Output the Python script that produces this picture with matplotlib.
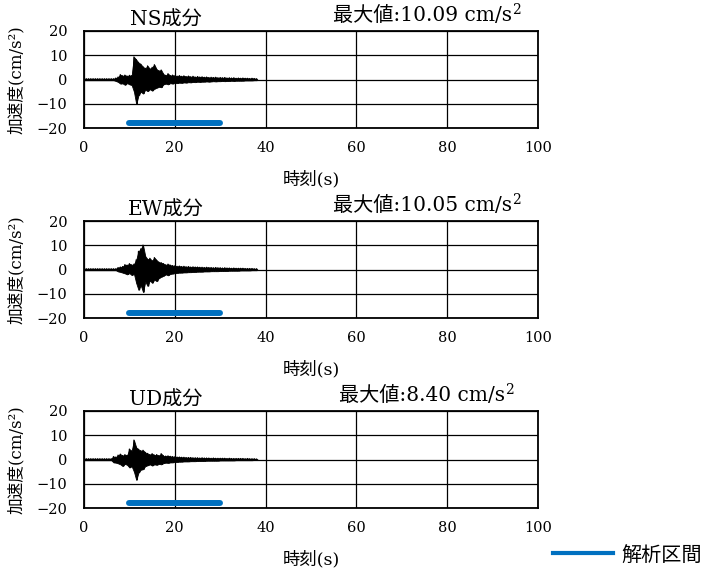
import matplotlib
matplotlib.use("Agg")
import matplotlib.pyplot as plt
from matplotlib.lines import Line2D
import numpy as np

plt.rcParams["font.family"] = ["DejaVu Serif", "Noto Sans CJK JP"]

# envelope of the records, read every 0.5 s from 0 to 38 s
T_STEP = 0.5
T_END = 38.0

ns_upper = [0.3] * 14 + [
    0.6, 1.0, 2.0, 1.5, 1.8, 1.4, 1.7, 1.6, 9.3, 8.2, 7.0, 6.3, 5.2, 4.6, 5.6, 4.4,
    5.0, 6.1, 4.2, 3.6, 3.9, 2.2, 1.7, 2.4, 1.6, 1.8, 1.5, 1.4, 1.6, 1.3, 1.5, 1.2,
    1.4, 1.1, 1.3, 1.0, 1.2, 1.0, 1.1, 0.9, 1.0, 0.8, 0.9, 0.8, 0.9, 0.7, 0.8, 0.7,
    0.8, 0.6, 0.7, 0.6, 0.7, 0.5, 0.6, 0.5, 0.6, 0.5, 0.5, 0.4, 0.5, 0.4, 0.3]
ns_lower = [-0.3] * 14 + [
    -0.6, -1.0, -1.7, -1.6, -2.2, -1.5, -2.0, -2.3, -5.0, -10.09, -6.5, -5.0, -5.8,
    -4.2, -4.8, -4.0, -4.6, -3.8, -3.4, -3.0, -3.2, -2.0, -1.7, -2.0, -1.5, -1.7,
    -1.4, -1.5, -1.3, -1.4, -1.2, -1.3, -1.1, -1.2, -1.0, -1.1, -0.9, -1.0, -0.9,
    -0.9, -0.8, -0.9, -0.8, -0.7, -0.8, -0.7, -0.7, -0.6, -0.7, -0.6, -0.6, -0.5,
    -0.6, -0.5, -0.5, -0.5, -0.5, -0.4, -0.4, -0.4, -0.4, -0.3, -0.3]

ew_upper = [0.3] * 15 + [
    0.8, 1.0, 1.2, 2.0, 1.8, 2.4, 1.9, 2.2, 4.0, 7.5, 8.5, 10.05, 5.5, 4.2, 4.6,
    3.6, 4.9, 3.8, 3.0, 2.8, 2.4, 1.9, 2.2, 1.8, 1.6, 1.5, 1.3, 1.4, 1.2, 1.3, 1.1,
    1.2, 1.0, 1.1, 1.0, 1.0, 0.9, 0.9, 0.8, 0.9, 0.8, 0.8, 0.7, 0.8, 0.7, 0.7, 0.6,
    0.7, 0.6, 0.6, 0.5, 0.6, 0.5, 0.5, 0.5, 0.5, 0.4, 0.4, 0.4, 0.4, 0.3, 0.3]
ew_lower = [-0.3] * 15 + [
    -0.8, -1.0, -1.3, -1.6, -2.0, -1.5, -2.3, -1.8, -5.6, -8.4, -6.5, -9.3, -5.0,
    -6.8, -4.5, -5.5, -4.2, -4.8, -3.5, -3.0, -2.6, -2.0, -2.4, -1.8, -1.7, -1.5,
    -1.4, -1.3, -1.3, -1.2, -1.2, -1.1, -1.1, -1.0, -1.0, -0.9, -0.9, -0.9, -0.8,
    -0.8, -0.8, -0.7, -0.7, -0.7, -0.7, -0.6, -0.6, -0.6, -0.6, -0.5, -0.5, -0.5,
    -0.5, -0.5, -0.4, -0.4, -0.4, -0.4, -0.4, -0.3, -0.3, -0.3]

ud_upper = [0.3] * 13 + [
    1.2, 1.0, 1.8, 2.2, 1.6, 2.0, 1.7, 4.3, 3.5, 8.0, 5.0, 4.2, 3.6, 3.8, 2.9, 2.5,
    2.0, 2.4, 1.8, 2.0, 1.6, 2.4, 1.5, 1.4, 1.5, 1.3, 1.2, 1.1, 1.0, 1.0, 0.9, 0.9,
    0.8, 0.8, 0.8, 0.7, 0.7, 0.7, 0.6, 0.7, 0.6, 0.6, 0.6, 0.5, 0.6, 0.5, 0.5, 0.5,
    0.5, 0.5, 0.4, 0.5, 0.4, 0.4, 0.4, 0.4, 0.4, 0.4, 0.3, 0.4, 0.3, 0.3, 0.3, 0.2]
ud_lower = [-0.3] * 13 + [
    -1.2, -1.3, -1.6, -2.0, -2.7, -1.8, -2.2, -3.3, -2.8, -5.0, -8.40, -5.4, -4.2,
    -4.0, -2.7, -2.4, -2.0, -2.5, -2.0, -2.2, -1.8, -2.0, -1.5, -1.3, -1.4, -1.2,
    -1.2, -1.0, -1.0, -0.9, -0.9, -0.8, -0.8, -0.8, -0.7, -0.7, -0.7, -0.6, -0.6,
    -0.6, -0.6, -0.5, -0.5, -0.5, -0.5, -0.5, -0.5, -0.4, -0.4, -0.4, -0.4, -0.4,
    -0.4, -0.4, -0.3, -0.3, -0.3, -0.3, -0.3, -0.3, -0.3, -0.3, -0.2, -0.2]

components = ["NS成分", "EW成分", "UD成分"]
max_values = ["10.09", "10.05", "8.40"]
uppers = [ns_upper, ew_upper, ud_upper]
lowers = [ns_lower, ew_lower, ud_lower]

window = [10, 30]      # 解析区間 (s)
window_level = -18
BLUE = "#0070c0"

fig = plt.figure(figsize=(7.13, 5.73), dpi=100)

left, width, height = 84 / 713, 454 / 713, 97 / 573
bottoms = [1 - 128 / 573, 1 - 318 / 573, 1 - 508 / 573]

t = np.arange(0, T_END + T_STEP / 2, T_STEP)

for i, (name, vmax, up, lo) in enumerate(zip(components, max_values, uppers, lowers)):
    ax = fig.add_axes([left, bottoms[i], width, height])
    # solid body of the record plus a zig-zag between the envelope values
    ax.fill_between(t, lo, up, color="black", linewidth=0.6, zorder=3)
    xs = np.column_stack([t, t + T_STEP / 2]).ravel()
    ys = np.column_stack([up, lo]).ravel()
    ax.plot(xs, ys, color="black", linewidth=0.9, zorder=3)

    ax.plot(window, [window_level, window_level], color=BLUE,
            linewidth=4.3, solid_capstyle="round", zorder=4)

    ax.set_xlim(0, 100)
    ax.set_ylim(-20, 20)
    ax.set_xticks(np.arange(0, 101, 20))
    ax.set_yticks(np.arange(-20, 21, 10))
    ax.grid(True, color="black", linewidth=0.9)
    ax.tick_params(length=0, labelsize=10.5)
    ax.tick_params(axis="y", pad=12)
    ax.tick_params(axis="x", pad=9)
    for sp in ax.spines.values():
        sp.set_linewidth(1.3)

    ax.set_xlabel("時刻(s)", fontsize=12.5)
    ax.xaxis.set_label_coords(0.5, -0.44)
    ax.set_ylabel("加速度(cm/s²)", fontsize=12)
    ax.yaxis.set_label_coords(-0.13, 0.5)

    ax.text(0.18, 1.115, name, transform=ax.transAxes, ha="center",
            va="center", fontsize=14.5)
    head = ax.text(0.745, 1.16, f"最大値:{vmax} cm/s", transform=ax.transAxes,
                   ha="center", va="center", fontsize=14.5)
    ax.annotate("2", xy=(1.0, 0.78), xycoords=head, ha="left", va="center",
                fontsize=10)

handle = Line2D([], [], color=BLUE, linewidth=3)
fig.legend(handles=[handle], labels=["解析区間"], loc="center right",
           bbox_to_anchor=(712 / 713, 1 - 555 / 573), frameon=False,
           handlelength=3.0, handletextpad=0.4, borderpad=0, fontsize=14.5)

fig.savefig("out.png", dpi=100)
